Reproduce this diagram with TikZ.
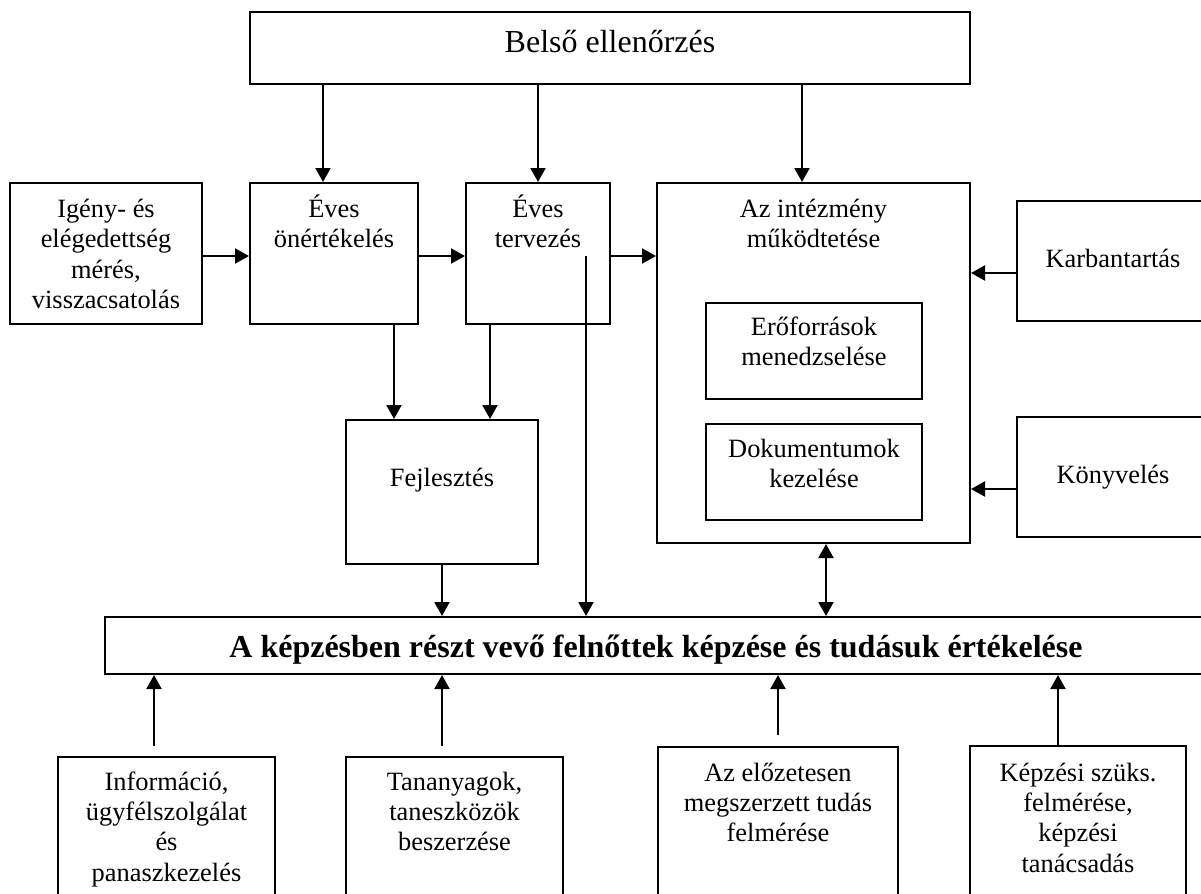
\documentclass[tikz,border=0pt]{standalone}
\usepackage{fontspec}
\setmainfont{Liberation Serif}
\usetikzlibrary{arrows.meta, positioning}

\begin{document}
\begin{tikzpicture}[
        x=0.5pt, y=-0.5pt,
        box/.style={rectangle, draw, line width=1pt, inner sep=0pt},
        txt/.style={text width=130pt, align=flush center, inner sep=0pt, anchor=base,
                    font=\fontsize{13.2pt}{15.2pt}\selectfont},
        single/.style={font=\fontsize{13.2pt}{15.2pt}\selectfont,
                       text height=9pt, text depth=3pt},
        arrow/.style={-{Triangle[length=7pt, width=7.5pt]}, line width=1pt},
        dblarrow/.style={{Triangle[length=7pt, width=7.5pt]}-{Triangle[length=7pt, width=7.5pt]}, line width=1pt},
    ]
    \useasboundingbox (0,0) rectangle (1201,894);
    \clip (0,0) rectangle (1201,894);

    % top
    \node[box, minimum width=360pt, minimum height=36pt, text height=9pt, text depth=4pt,
          font=\fontsize{16pt}{18pt}\selectfont] (belso) at (610,48) {Belső ellenőrzés};

    % middle row
    \node[box, minimum width=96pt, minimum height=70.5pt] (igeny) at (106,253.5) {};
    \node[box, minimum width=84pt, minimum height=70.5pt] (onert) at (334,253.5) {};
    \node[box, minimum width=72pt, minimum height=70.5pt] (terv) at (538,253.5) {};
    \node[box, minimum width=156.5pt, minimum height=180pt] (mukod) at (813.5,363) {};
    \node[box, minimum width=108pt, minimum height=48pt] (eroforr) at (814,351) {};
    \node[box, minimum width=108pt, minimum height=48pt] (dokum) at (814,472) {};
    \node[box, single, minimum width=96pt, minimum height=60pt] (karb) at (1113,261) {Karbantartás};
    \node[box, single, minimum width=96pt, minimum height=60pt] (konyv) at (1113,477) {Könyvelés};
    \node[box, minimum width=96pt, minimum height=72pt] (fejl) at (442,492) {};

    % training bar
    \node[box, minimum width=551pt, minimum height=28.5pt, text height=14pt, text depth=2.5pt,
          font=\fontsize{16pt}{18pt}\selectfont\bfseries] (kepzes) at (656,645.5)
          {A képzésben részt vevő felnőttek képzése és tudásuk értékelése};

    % bottom row
    \node[box, minimum width=108.5pt, minimum height=74pt] (info) at (166.5,831) {};
    \node[box, minimum width=108.5pt, minimum height=74pt] (tan) at (454.5,831) {};
    \node[box, minimum width=120pt, minimum height=79pt] (elozet) at (778,826) {};
    \node[box, minimum width=108pt, minimum height=79.5pt] (szuks) at (1078,825.5) {};

    % texts (first baseline below the top edge)
    \node[txt] (igeny-t) at ([yshift=-17.75pt]igeny.north) {Igény- és\\elégedettség\\mérés,\\visszacsatolás};
    \node[txt] (onert-t) at ([yshift=-17.5pt]onert.north) {Éves\\önértékelés};
    \node[txt] (terv-t) at ([yshift=-17.5pt]terv.north) {Éves\\tervezés};
    \node[txt] (mukod-t) at ([yshift=-17.5pt]mukod.north) {Az intézmény\\működtetése};
    \node[txt] (eroforr-t) at ([yshift=-16.5pt]eroforr.north) {Erőforrások\\menedzselése};
    \node[txt] (dokum-t) at ([yshift=-17pt]dokum.north) {Dokumentumok\\kezelése};
    \node[txt] (fejl-t) at ([yshift=-33.5pt]fejl.north) {Fejlesztés};
    \node[txt] (info-t) at ([yshift=-17pt]info.north) {Információ,\\ügyfélszolgálat\\és\\panaszkezelés};
    \node[txt] (tan-t) at ([yshift=-17pt]tan.north) {Tananyagok,\\taneszközök\\beszerzése};
    \node[txt] (elozet-t) at ([yshift=-17.5pt]elozet.north) {Az előzetesen\\megszerzett tudás\\felmérése};
    \node[txt] (szuks-t) at ([yshift=-18pt]szuks.north) {Képzési szüks.\\felmérése,\\képzési\\tanácsadás};

    % arrow ends
    \coordinate (c1) at ([xshift=-5.5pt]onert.north);
    \coordinate (c2) at ([xshift=-5.75pt]mukod.north);
    \coordinate (c3) at ([xshift=30pt]onert.south);
    \coordinate (c4) at ([xshift=-24pt]terv.south);
    \coordinate (c5) at ([xshift=24pt, yshift=-1.25pt]terv.center);
    \coordinate (c6) at ([xshift=6.25pt]mukod.south);
    \coordinate (c7) at ([yshift=-6pt]karb.west);
    \coordinate (c8) at ([yshift=-6pt]konyv.west);
    \coordinate (c9) at ([xshift=-6.25pt, yshift=5pt]info.north);
    \coordinate (c10) at ([xshift=-6.25pt, yshift=5pt]tan.north);
    \coordinate (c11) at ([yshift=5.5pt]elozet.north);
    \coordinate (c12) at ([xshift=-10pt]szuks.north);
    \coordinate (c13) at ([yshift=-1.25pt]igeny.east);
    \coordinate (c14) at ([yshift=-1.25pt]onert.east);
    \coordinate (c15) at ([yshift=-1.25pt]terv.east);

    \draw[arrow] (c1 |- belso.south) -- (c1);
    \draw[arrow] (terv.north |- belso.south) -- (terv.north);
    \draw[arrow] (c2 |- belso.south) -- (c2);
    \draw[arrow] (c13) -- (c13 -| onert.west);
    \draw[arrow] (c14) -- (c14 -| terv.west);
    \draw[arrow] (c15) -- (c15 -| mukod.west);
    \draw[arrow] (c7) -- (c7 -| mukod.east);
    \draw[arrow] (c8) -- (c8 -| mukod.east);
    \draw[arrow] (c3) -- (c3 |- fejl.north);
    \draw[arrow] (c4) -- (c4 |- fejl.north);
    \draw[arrow] (c5) -- (c5 |- kepzes.north);
    \draw[arrow] (fejl.south) -- (fejl.south |- kepzes.north);
    \draw[dblarrow] (c6) -- (c6 |- kepzes.north);
    \draw[arrow] (c9) -- (c9 |- kepzes.south);
    \draw[arrow] (c10) -- (c10 |- kepzes.south);
    \draw[arrow] (c11) -- (c11 |- kepzes.south);
    \draw[arrow] (c12) -- (c12 |- kepzes.south);
\end{tikzpicture}
\end{document}
